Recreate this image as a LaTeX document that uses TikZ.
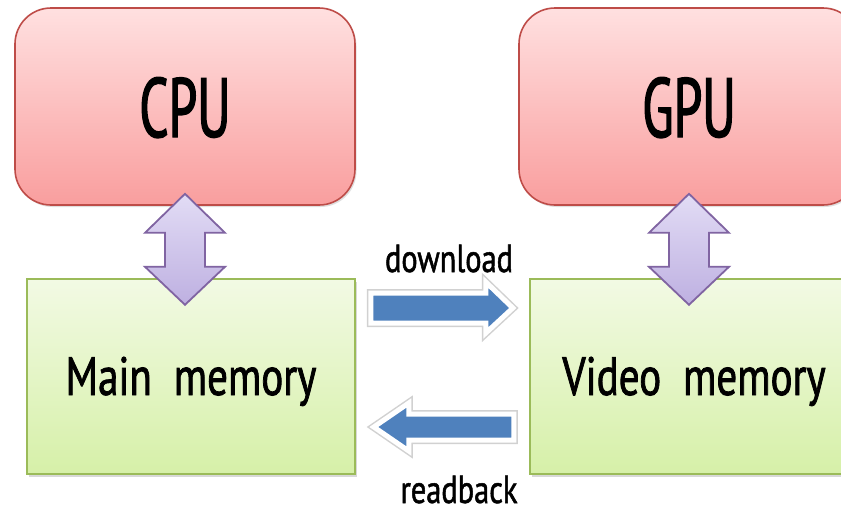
\documentclass[tikz,border=0pt]{standalone}
\usepackage{fontspec}
\setmainfont{PT Sans}
\newfontfamily\unitfont{PT Sans}[FakeStretch=0.61, FakeBold=1.6]
\newfontfamily\memfont{PT Sans}[FakeStretch=0.76, FakeBold=1.4]
\newfontfamily\capfont{PT Sans}[FakeStretch=0.78, FakeBold=1.3]
\usetikzlibrary{shadows,calc}

\definecolor{redtop}{RGB}{255,224,224}
\definecolor{redbot}{RGB}{249,158,158}
\definecolor{redline}{RGB}{190,76,72}
\definecolor{greentop}{RGB}{242,250,228}
\definecolor{greenbot}{RGB}{214,240,168}
\definecolor{greenline}{RGB}{155,187,89}
\definecolor{purpletop}{RGB}{226,220,245}
\definecolor{purplebot}{RGB}{190,176,225}
\definecolor{purpleline}{RGB}{128,100,162}
\definecolor{bluefill}{RGB}{79,129,189}

\tikzset{
  unitbox/.style={draw=redline, line width=1.6pt, rounded corners=36pt,
    top color=redtop, bottom color=redbot,
    minimum width=340pt, minimum height=197pt,
    text height=61pt, text depth=0pt,
    drop shadow={shadow xshift=1.5pt, shadow yshift=-2pt, opacity=0.25},
    font=\unitfont\fontsize{84}{84}\selectfont},
  memorybox/.style={draw=greenline, line width=1.6pt,
    top color=greentop, bottom color=greenbot,
    minimum width=328pt, minimum height=195pt,
    text height=37pt, text depth=0pt,
    drop shadow={shadow xshift=2pt, shadow yshift=-3pt, opacity=0.3},
    font=\memfont\fontsize{54}{54}\selectfont},
  linkarrow/.style={draw=purpleline, line width=1.8pt, line join=miter,
    top color=purpletop, bottom color=purplebot},
  transferhalo/.style={draw=black, draw opacity=0.18, line width=8pt, line join=miter},
  transfer/.style={draw=white, line width=5pt, fill=bluefill, line join=miter},
  caption/.style={font=\capfont\fontsize{39}{39}\selectfont, inner sep=0pt, anchor=base}
}

\begin{document}
\begin{tikzpicture}[x=1pt,y=-1pt]
\useasboundingbox (0,0) rectangle (841,515);
\clip (0,0) rectangle (841,515);
\fill[white] (0,0) rectangle (841,515);

% processors
\node[unitbox] (cpu) at (185,106.5) {CPU};
\node[unitbox] (gpu) at (689,106.5) {GPU};

% memories
\node[memorybox] (main) at (191,376.5) {Main~~memory};
\node[memorybox] (video) at (694,376.5) {Video~~memory};

% processor <-> memory links
\foreach \p in {cpu,gpu}{
  \begin{scope}[shift={(\p.south)}]
    \path[linkarrow] (0,-12) -- (40,27) -- (20,27) -- (20,61) -- (40,61)
      -- (0,99) -- (-40,61) -- (-20,61) -- (-20,27) -- (-40,27) -- cycle;
  \end{scope}
}

% download: main memory -> video memory
\coordinate (dl) at ($(main.east)+(15,-68.5)$);
\foreach \s in {transferhalo,transfer}{
  \path[\s] (dl) ++(0,-15) -- ++(115,0) -- ++(0,-11) -- ++(27,26)
    -- ++(-27,25) -- ++(0,-10) -- ++(-115,0) -- cycle;
}
\node[caption] (dltext) at (449,272) {download};

% readback: video memory -> main memory
\coordinate (rb) at ($(main.east)+(18,50.5)$);
\foreach \s in {transferhalo,transfer}{
  \path[\s] (rb) -- ++(35,-24) -- ++(0,11) -- ++(105,0) -- ++(0,26)
    -- ++(-105,0) -- ++(0,11) -- cycle;
}
\node[caption] (rbtext) at (459,503) {readback};
\end{tikzpicture}
\end{document}
